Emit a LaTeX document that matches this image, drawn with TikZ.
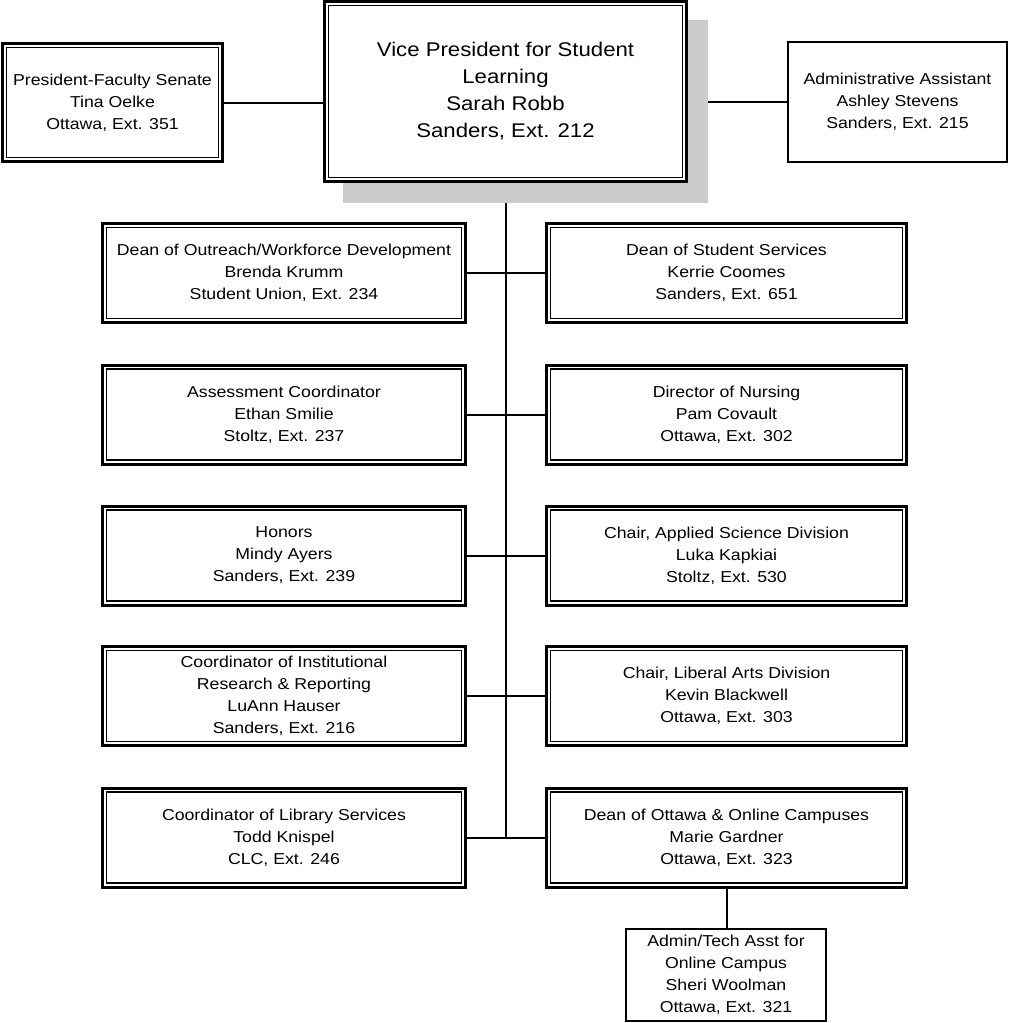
\documentclass[tikz,border=0pt]{standalone}
\usepackage{fontspec}
\setmainfont{Liberation Sans}[FakeStretch=1.12]
\pgfdeclarelayer{bg}
\pgfdeclarelayer{shadowlayer}
\pgfsetlayers{bg,shadowlayer,main}
\definecolor{shadowgray}{RGB}{204,204,204}
\tikzset{
  txt/.style={align=center, inner sep=0pt, font=\fontsize{15.8}{22}\selectfont},
  dblbox/.style={txt, draw, fill=white, line width=3pt},
  innerline/.style={line width=1.4pt},
  sglbox/.style={txt, draw, fill=white, line width=2.2pt},
  conn/.style={line width=2pt},
  rowl/.style={dblbox, minimum width=363pt, minimum height=99pt},
  rowr/.style={dblbox, minimum width=360pt, minimum height=99pt},
}
\begin{document}
\begin{tikzpicture}[x=1pt,y=-1pt]
\useasboundingbox (0,0) rectangle (1009,1023);

\node[dblbox, minimum width=362pt, minimum height=180pt,
      font=\fontsize{19.8}{27}\selectfont] (vp) at (505.5,91.5)
  {Vice President for Student\\Learning\\Sarah Robb\\Sanders, Ext. 212};
\node[dblbox, minimum width=220pt, minimum height=118pt] (pfs) at (112.5,102.5)
  {President-Faculty Senate\\Tina Oelke\\Ottawa, Ext. 351};
\node[sglbox, minimum width=219pt, minimum height=120pt] (aa) at (897.5,102)
  {Administrative Assistant\\Ashley Stevens\\Sanders, Ext. 215};

\node[rowl] (l1) at (284,273) {Dean of Outreach/Workforce Development\\Brenda Krumm\\Student Union, Ext. 234};
\node[rowr] (r1) at (726.5,273) {Dean of Student Services\\Kerrie Coomes\\Sanders, Ext. 651};
\node[rowl] (l2) at (284,414.5) {Assessment Coordinator\\Ethan Smilie\\Stoltz, Ext. 237};
\node[rowr] (r2) at (726.5,414.5) {Director of Nursing\\Pam Covault\\Ottawa, Ext. 302};
\node[rowl] (l3) at (284,555.5) {Honors\\Mindy Ayers\\Sanders, Ext. 239};
\node[rowr] (r3) at (726.5,555.5) {Chair, Applied Science Division\\Luka Kapkiai\\Stoltz, Ext. 530};
\node[rowl] (l4) at (284,696) {Coordinator of Institutional\\Research \& Reporting\\LuAnn Hauser\\Sanders, Ext. 216};
\node[rowr] (r4) at (726.5,696) {Chair, Liberal Arts Division\\Kevin Blackwell\\Ottawa, Ext. 303};
\node[rowl] (l5) at (284,837.5) {Coordinator of Library Services\\Todd Knispel\\CLC, Ext. 246};
\node[rowr] (r5) at (726.5,837.5) {Dean of Ottawa \& Online Campuses\\Marie Gardner\\Ottawa, Ext. 323};

\node[sglbox, minimum width=200pt, minimum height=92pt] (at) at (726,975)
  {Admin/Tech Asst for\\Online Campus\\Sheri Woolman\\Ottawa, Ext. 321};

\foreach \n in {vp,pfs,l1,l2,l3,l4,l5,r1,r2,r3,r4,r5} {
  \draw[innerline] ([shift={(5.6pt,5.6pt)}]\n.south west) rectangle ([shift={(-5.6pt,-5.6pt)}]\n.north east);
}

\begin{pgfonlayer}{shadowlayer}
  \fill[shadowgray] ([shift={(20pt,-20pt)}]vp.north west) rectangle ([shift={(20pt,-20pt)}]vp.south east);
\end{pgfonlayer}

\begin{pgfonlayer}{bg}
  \draw[conn] (pfs.east) -- (pfs.east -| vp.west);
  \draw[conn] (aa.west -| vp.east) -- (aa.west);
  \coordinate (tend) at (vp.south |- l5.east);
  \draw[conn] (vp.south) -- (tend);
  \foreach \i in {1,...,5} {
    \draw[conn] (l\i.east) -- (r\i.west);
  }
  \draw[conn] (r5.south) -- (r5.south |- at.north);
\end{pgfonlayer}
\end{tikzpicture}
\end{document}
